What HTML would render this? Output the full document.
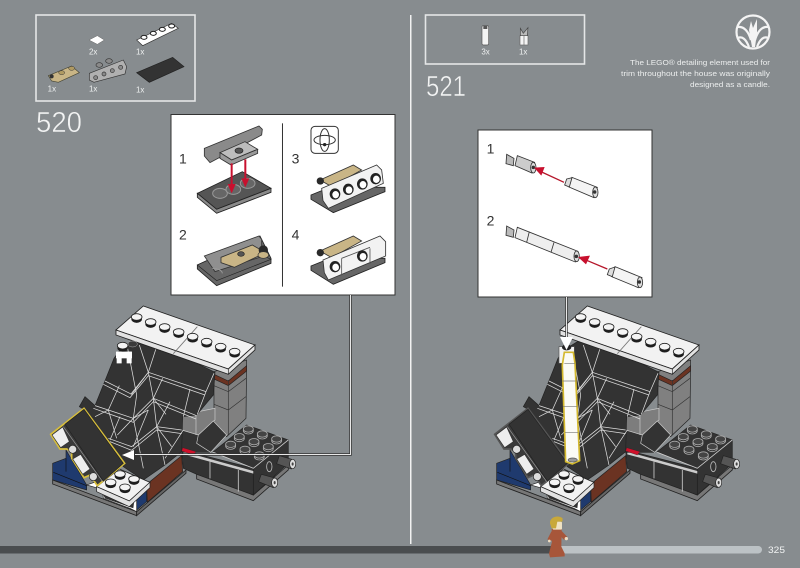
<!DOCTYPE html>
<html><head><meta charset="utf-8"><style>
html,body{margin:0;padding:0;background:#878c8f;width:800px;height:568px;overflow:hidden}
svg{display:block;filter:blur(.3px)}
text{font-family:"Liberation Sans",sans-serif}
</style></head><body>
<svg width="800" height="568" viewBox="0 0 800 568" xmlns="http://www.w3.org/2000/svg">
<defs>
<g id="s"><ellipse cy="7" rx="16" ry="10.5" fill="#1d1d1d"/><ellipse rx="16" ry="10" fill="#f4f4f4" stroke="#222" stroke-width="2.5"/></g>
<g id="d"><ellipse cy="5" rx="15" ry="10" fill="#2d2d2d" stroke="#aaa" stroke-width="2.5"/><ellipse rx="15" ry="9.5" fill="#444" stroke="#aaa" stroke-width="2.5"/></g>
<g id="h"><ellipse cx="0" cy="0" rx="16" ry="17" fill="#222"/><ellipse cx="2" cy="2" rx="10" ry="11" fill="#fff"/></g>
<g id="house">
 <polygon points="470,530 640,600 745,510 745,525 640,617 470,552" fill="#777" stroke="#222" stroke-width="2.5"/>
 <polygon points="520,470 620,390 745,435 745,505 640,600 640,520" fill="#333" stroke="#222" stroke-width="2"/>
 <polygon points="425,465 640,520 640,600 470,538 430,520" fill="#333" stroke="#222" stroke-width="2"/>
 <polygon points="430,470 640,528 640,536 430,478" fill="#ccc"/>
 <path d="M510,500V550M595,525V590M520,472L640,520L745,435" fill="none" stroke="#ccc" stroke-width="2.5"/>
 <use href="#d" x="625" y="402"/><use href="#d" x="667" y="417"/><use href="#d" x="710" y="432"/>
 <use href="#d" x="598" y="425"/><use href="#d" x="642" y="440"/><use href="#d" x="685" y="455"/>
 <use href="#d" x="572" y="448"/><use href="#d" x="615" y="463"/><use href="#d" x="658" y="480"/>
 <polygon points="718,482 762,495 754,522 710,506" fill="#555" stroke="#222" stroke-width="2"/>
 <polygon points="664,538 708,550 700,578 656,560" fill="#555" stroke="#222" stroke-width="2"/>
 <ellipse cx="758" cy="507" rx="9" ry="14" fill="#ddd" stroke="#222" stroke-width="2"/><ellipse cx="758" cy="507" rx="3" ry="5" fill="#444"/>
 <ellipse cx="704" cy="563" rx="9" ry="14" fill="#ddd" stroke="#222" stroke-width="2"/><ellipse cx="704" cy="563" rx="3" ry="5" fill="#444"/>
 <ellipse cx="688" cy="515" rx="8" ry="15" fill="none" stroke="#bbb" stroke-width="2.5"/>
 <polygon points="522,230 620,195 618,370 560,425 522,395" fill="#808080" stroke="#222" stroke-width="2"/>
 <polygon points="522,238 565,258 620,212 620,228 565,272 522,252" fill="#6b3322" stroke="#222" stroke-width="2"/>
 <path d="M522,272L565,290L618,250M522,328L565,345L618,305M565,255V420" fill="none" stroke="#333" stroke-width="2"/>
 <polygon points="425,400 478,418 470,445 512,472 425,472" fill="#333" stroke="#222" stroke-width="2"/>
 <polygon points="425,360 525,340 525,375 475,420 425,405" fill="#7d7d7d" stroke="#ccc" stroke-width="2"/>
 <path d="M468,360V420" stroke="#ccc" stroke-width="2"/>
 <polygon points="475,420 520,378 560,420 512,472 470,445" fill="#333" stroke="#ccc" stroke-width="2"/>
 <polygon points="280,140 350,150 400,170 525,232 520,300 470,360 428,365 425,470 375,510 310,555 250,515 135,345 118,335 135,305 165,332 190,270 222,190 240,165" fill="#333" stroke="#222" stroke-width="2"/>
 <g fill="none" stroke="#dedede" stroke-width="2.2">
  <path d="M195,258L275,298L325,232L498,290"/><path d="M190,268L270,308L325,242L495,300"/>
  <path d="M165,332L205,345L280,370L340,310L470,362"/><path d="M160,340L205,356L280,382L340,320L468,372"/>
  <path d="M205,430L275,455L350,395L425,405"/><path d="M210,440L275,466L350,405L425,416"/>
  <path d="M262,155L290,300L280,370L310,520"/><path d="M298,150L325,232L340,310L350,395L375,510"/>
  <path d="M350,155L325,232L272,298M368,250L340,310L378,358M450,282L430,365M522,235L498,290L472,358"/>
  <path d="M238,272L205,345L165,365M325,345L280,370L232,420M205,345L230,430M390,320L350,395L395,455M280,455L325,345M210,435L240,365M430,405L375,490"/>
 </g>
 <polygon points="428,458 468,470 460,480 425,468" fill="#d0102a" stroke="#222" stroke-width="1"/>
 <polygon points="228,105 310,33 645,150 565,222" fill="#f2f2f2" stroke="#222" stroke-width="2.5"/>
 <polygon points="228,105 228,120 565,238 645,165 645,150 565,222" fill="#e2e2e2" stroke="#222" stroke-width="2.5"/>
 <path d="M400,176L472,95" stroke="#777" stroke-width="2.5" fill="none"/><path d="M565,222V238" stroke="#222" stroke-width="2"/>
 <use href="#s" x="290" y="66"/><use href="#s" x="332" y="81"/><use href="#s" x="374" y="96"/><use href="#s" x="416" y="111"/><use href="#s" x="458" y="125"/><use href="#s" x="500" y="140"/><use href="#s" x="542" y="155"/><use href="#s" x="584" y="170"/>
 <polygon points="38,505 78,490 78,465 140,570 140,585 38,555" fill="#1f3a6e" stroke="#222" stroke-width="2"/>
 <path d="M40,532L140,572M78,490V530" stroke="#111" stroke-width="2" fill="none"/>
 <polygon points="38,555 290,650 290,662 38,567" fill="#777" stroke="#222" stroke-width="2.5"/>
 <polygon points="290,650 438,525 438,535 290,662" fill="#666" stroke="#222" stroke-width="2.5"/>
 <polygon points="290,600 320,570 320,620 290,645" fill="#1f3a6e" stroke="#222" stroke-width="2"/>
 <polygon points="320,568 425,482 428,530 322,622" fill="#6b3322" stroke="#222" stroke-width="2"/>
 <polygon points="140,570 185,555 190,610 270,640 290,650 290,600 270,620 175,580" fill="#fff" stroke="#222" stroke-width="2"/>
 <polygon points="190,600 270,625 285,600 280,640 195,610" fill="#333"/>
 <polygon points="170,575 238,522 330,562 268,618" fill="#f2f2f2" stroke="#222" stroke-width="2.5"/>
 <polygon points="170,575 170,590 268,635 330,578 330,562 268,618" fill="#e2e2e2" stroke="#222" stroke-width="2"/>
 <use href="#s" x="240" y="537"/><use href="#s" x="282" y="552"/><use href="#s" x="212" y="562"/><use href="#s" x="255" y="577"/>
 <polygon points="32,418 132,340 254,505 172,572 150,540 132,548 95,490 95,470 80,462 60,462" fill="#3a3a3a" stroke="currentColor" stroke-width="5"/>
 <polygon points="75,388 132,343 250,505 190,558" fill="#333" stroke="#222" stroke-width="2"/>
 <path d="M70,395L188,560" stroke="#999" stroke-width="2"/>
 <circle cx="98" cy="463" r="12" fill="#ddd" stroke="#222" stroke-width="2"/><circle cx="160" cy="545" r="12" fill="#ddd" stroke="#222" stroke-width="2"/>
 <path d="M36,420L68,396L88,440L62,458ZM98,492L122,478L150,522L128,538Z" fill="#eee" stroke="#333" stroke-width="2"/>
</g>
</defs>
<rect width="800" height="568" fill="#878c8f"/>
<rect x="410" y="15" width="1.5" height="529" fill="#f2f2f2"/>
<rect x="36" y="15" width="159" height="86" fill="none" stroke="#e4e6e7" stroke-width="1.6"/>
<rect x="425.5" y="15" width="159" height="49" fill="none" stroke="#e4e6e7" stroke-width="1.6"/>

<g transform="translate(20,5) scale(.3333)" fill="#eef0f0">
 <polygon points="207,105 232,92 253,105 232,118" fill="#fff" stroke="#666" stroke-width="1.5"/>
 <polygon points="350,105 455,55 475,70 368,122" fill="#fff" stroke="#333" stroke-width="2"/>
 <g fill="#fff" stroke="#222" stroke-width="3"><ellipse cx="372" cy="97" rx="9" ry="6"/><ellipse cx="400" cy="85" rx="9" ry="6"/><ellipse cx="427" cy="73" rx="9" ry="6"/><ellipse cx="455" cy="63" rx="9" ry="6"/></g>
 <polygon points="85,212 155,183 178,203 115,232 95,228" fill="#c9b586" stroke="#443" stroke-width="2"/>
 <g fill="#b09a62" stroke="#333" stroke-width="1.5"><ellipse cx="125" cy="203" rx="9" ry="6"/><ellipse cx="155" cy="190" rx="9" ry="6"/></g>
 <circle cx="95" cy="214" r="6" fill="#333"/>
 <polygon points="208,205 310,165 320,185 315,207 222,232 208,225" fill="#b0b0b0" stroke="#333" stroke-width="2"/>
 <g fill="#8a8a8a" stroke="#333" stroke-width="2"><ellipse cx="238" cy="180" rx="10" ry="7"/><ellipse cx="267" cy="168" rx="10" ry="7"/><circle cx="227" cy="218" r="6"/><circle cx="252" cy="207" r="6"/><circle cx="277" cy="197" r="6"/><circle cx="302" cy="187" r="6"/></g>
 <polygon points="350,203 458,157 492,185 388,232" fill="#333" stroke="#222" stroke-width="2"/>
 <g style="font-size:24px"><text x="207" y="148">2x</text><text x="348" y="148">1x</text><text x="83" y="259">1x</text><text x="207" y="259">1x</text><text x="348" y="262">1x</text></g>
</g>
<g transform="translate(415,5) scale(.3333)" fill="#eef0f0">
 <rect x="201" y="62" width="20" height="58" rx="4" fill="#f4f4f4" stroke="#555" stroke-width="2"/><rect x="205" y="62" width="12" height="10" fill="#555"/>
 <rect x="315" y="92" width="24" height="28" fill="#f4f4f4" stroke="#666" stroke-width="2"/><path d="M327,92V120" stroke="#666" stroke-width="2"/><path d="M316,70L325,85L339,68L337,92H316Z" fill="#bbb" stroke="#444" stroke-width="2"/>
 <g style="font-size:24px"><text x="199" y="148">3x</text><text x="312" y="148">1x</text></g>
</g>
<text x="36" y="132" font-size="29" fill="#f2f3f3" stroke="#878c8f" stroke-width=".5" textLength="46" lengthAdjust="spacingAndGlyphs">520</text>
<text x="426" y="96" font-size="29" fill="#f2f3f3" stroke="#878c8f" stroke-width=".5" textLength="40" lengthAdjust="spacingAndGlyphs">521</text>

<circle cx="753" cy="32" r="16.5" fill="none" stroke="#f4f4f4" stroke-width="2.2"/>
<path d="M752,47L749,30L751,21L753,28L757,19L757,33L755,47Z" fill="#f4f4f4"/>
<g fill="none" stroke="#f4f4f4" stroke-width="2.2"><path d="M751,40C748,30 743,26 737,27"/><path d="M755,40C758,30 763,26 769,27"/><path d="M749,47C746,39 742,36 738,38"/><path d="M757,47C760,39 764,36 768,38"/></g>
<g font-size="7.4" fill="#eceeee" text-anchor="end">
 <text x="770" y="65" textLength="140" lengthAdjust="spacingAndGlyphs">The LEGO® detailing element used for</text>
 <text x="770" y="76" textLength="149" lengthAdjust="spacingAndGlyphs">trim throughout the house was originally</text>
 <text x="770" y="87" textLength="80" lengthAdjust="spacingAndGlyphs">designed as a candle.</text>
</g>

<!-- Panel 1 -->
<rect x="171" y="114.5" width="224" height="180.5" fill="#fff" stroke="#333" stroke-width="1"/>
<g transform="translate(165,110) scale(.3333)">
 <rect x="351" y="40" width="3" height="490" fill="#333"/>
 <g font-size="42" fill="#333"><text x="42" y="160">1</text><text x="42" y="388">2</text><text x="380" y="160">3</text><text x="380" y="388">4</text></g>
 <rect x="438" y="49" width="82" height="81" rx="12" fill="#fff" stroke="#333" stroke-width="3"/>
 <g fill="none" stroke="#333" stroke-width="3"><ellipse cx="479" cy="90" rx="32" ry="14"/><ellipse cx="479" cy="90" rx="14" ry="34"/></g><circle cx="479" cy="104" r="5" fill="#222"/>
 <!-- step 1 -->
 <polygon points="97,250 232,185 318,235 155,298" fill="#555" stroke="#222" stroke-width="2.5"/>
 <polygon points="97,250 97,262 155,310 318,247 318,235 155,298" fill="#8a8a8a" stroke="#222" stroke-width="2.5"/>
 <g fill="#666" stroke="#999" stroke-width="3"><ellipse cx="165" cy="250" rx="22" ry="15"/><ellipse cx="205" cy="238" rx="22" ry="15"/><ellipse cx="248" cy="220" rx="22" ry="15"/></g>
 <polygon points="118,115 282,48 292,58 290,75 135,158 118,138" fill="#8a8a8a" stroke="#333" stroke-width="2.5"/>
 <polygon points="165,128 240,95 278,118 200,150" fill="#bdbdbd" stroke="#333" stroke-width="2.5"/>
 <polygon points="165,128 165,145 198,165 278,130 278,118 200,150" fill="#9a9a9a" stroke="#333" stroke-width="2.5"/>
 <ellipse cx="222" cy="122" rx="12" ry="8" fill="#555" stroke="#222" stroke-width="2"/>
 <g stroke="#c8102e" stroke-width="6" fill="#c8102e"><path d="M200,160V225M241,148V210"/></g>
 <g fill="#c8102e"><polygon points="188,222 212,222 200,250"/><polygon points="229,205 253,205 241,232"/></g>
 <!-- step 2 -->
 <polygon points="97,465 285,378 318,445 318,460 155,527 97,477" fill="#666" stroke="#222" stroke-width="2.5"/>
 <polygon points="97,465 230,405 318,448 155,512" fill="#666" stroke="#222" stroke-width="2"/>
 <polygon points="118,438 282,378 290,388 290,440 150,485" fill="#8f8f8f" stroke="#333" stroke-width="2.5"/>
 <polygon points="168,442 262,405 302,428 208,472 168,458" fill="#c9b586" stroke="#333" stroke-width="2.5"/>
 <ellipse cx="228" cy="432" rx="10" ry="7" fill="#555" stroke="#222" stroke-width="2"/>
 <circle cx="295" cy="420" r="14" fill="#2a2a2a"/><ellipse cx="295" cy="435" rx="16" ry="10" fill="#c9b586" stroke="#333" stroke-width="2"/>
 <path d="M142,475a30,15 0 0 1 30,15" stroke="#999" stroke-width="3" fill="none"/>
 <!-- step 3 -->
 <polygon points="438,255 500,230 660,232 660,245 505,308 438,268" fill="#666" stroke="#222" stroke-width="2.5"/>
 <polygon points="465,210 565,165 590,180 500,230" fill="#c9b586" stroke="#333" stroke-width="2.5"/>
 <circle cx="466" cy="213" r="11" fill="#2a2a2a"/>
 <polygon points="470,235 635,165 650,180 655,220 490,295 474,272" fill="#f2f2f2" stroke="#333" stroke-width="2.5"/>
 <use href="#h" x="510" y="252"/><use href="#h" x="550" y="238"/><use href="#h" x="592" y="222"/><use href="#h" x="632" y="206"/>
 <!-- step 4 -->
 <polygon points="438,468 500,443 660,445 660,458 505,523 438,481" fill="#666" stroke="#222" stroke-width="2.5"/>
 <polygon points="465,423 565,378 590,393 500,443" fill="#c9b586" stroke="#333" stroke-width="2.5"/>
 <circle cx="466" cy="428" r="11" fill="#2a2a2a"/>
 <polygon points="474,450 645,378 662,395 662,438 490,510 478,488" fill="#f2f2f2" stroke="#333" stroke-width="2.5"/>
 <path d="M530,445V497M615,415V462M530,445L615,412" stroke="#555" stroke-width="2.5" fill="none"/>
 <use href="#h" x="510" y="470"/><use href="#h" x="592" y="438"/>
</g>

<!-- Panel 2 -->
<rect x="478" y="130" width="174" height="167" fill="#fff" stroke="#333" stroke-width="1"/>
<g transform="translate(470,125) scale(.3333)">
 <g font-size="42" fill="#333"><text x="50" y="85">1</text><text x="50" y="302">2</text></g>
 <g stroke="#333" stroke-width="2.5" fill="#eee">
  <path d="M132,100L110,88L108,116L130,122Z" fill="#bbb"/>
  <polygon points="142,92 194,112 186,144 135,122" fill="#ccc"/><ellipse cx="190" cy="128" rx="8" ry="16" fill="#ddd"/><circle cx="190" cy="127" r="4" fill="#333"/>
  <polygon points="306,157 382,187 372,218 297,186" fill="#f4f4f4"/><ellipse cx="376" cy="202" rx="8" ry="16" fill="#ddd"/><circle cx="374" cy="201" r="4" fill="#333"/>
  <polygon points="290,162 306,158 298,186 284,180" fill="#ddd"/>
  <path d="M132,315L110,303L108,331L130,337Z" fill="#bbb"/>
  <polygon points="142,307 324,379 316,411 135,338" fill="#eee"/><path d="M178,320L170,352M252,352L243,382" fill="none"/><ellipse cx="320" cy="394" rx="8" ry="16" fill="#ddd"/><circle cx="319" cy="394" r="4" fill="#333"/>
  <polygon points="435,425 516,458 505,488 425,455" fill="#f4f4f4"/><ellipse cx="510" cy="472" rx="8" ry="16" fill="#ddd"/><circle cx="508" cy="471" r="4" fill="#333"/>
  <polygon points="418,432 435,426 427,455 412,449" fill="#ddd"/>
 </g>
 <g stroke="#b5162a" stroke-width="4" fill="#c8102e"><path d="M282,172L215,141M412,432L350,406"/></g>
 <g fill="#c8102e"><polygon points="192,128 224,126 214,152"/><polygon points="324,396 360,392 348,418"/></g>
</g>

<!-- houses -->
<g transform="translate(40,295) scale(.3333)" color="#d8bf3c"><use href="#house"/>
 <g><path d="M230,205V170H245V205ZM260,205V170H275V205Z" fill="#fff"/><rect x="228" y="170" width="48" height="20" fill="#fff"/><use href="#s" x="248" y="152"/><ellipse cx="278" cy="147" rx="14" ry="9" fill="#3a3a3a" stroke="#aaa" stroke-width="1.5"/></g>
</g>
<g transform="translate(484,295) scale(.3333)" color="#555"><use href="#house"/></g>
<g transform="translate(485,295) scale(.3333)">
 <rect x="222" y="155" width="46" height="50" fill="#f4f4f4" stroke="#555" stroke-width="2"/>
 <ellipse cx="245" cy="157" rx="14" ry="9" fill="#222"/>
 <polygon points="238,172 265,172 270,205 284,497 262,507 242,500 232,210" fill="#fbfbf6" stroke="#d4b92e" stroke-width="5"/>
 <path d="M238,205H270M232,258H272M234,335H276M240,412H280" stroke="#777" stroke-width="2" fill="none"/>
 <ellipse cx="263" cy="495" rx="14" ry="6" fill="#999" stroke="#555" stroke-width="2"/>
</g>

<!-- connectors -->
<g fill="none" stroke="#333" stroke-width="2.4"><path d="M350.5,295V454.5H135"/><path d="M566.5,297V340"/></g>
<g fill="none" stroke="#e8e8e8" stroke-width="1"><path d="M350.5,295V454.5H135"/><path d="M566.5,297V340"/></g>
<polygon points="122,455 134,450 134,460" fill="#fff"/>
<polygon points="566.5,350 560,337 573,337" fill="#fff"/>

<!-- progress -->
<rect x="0" y="546" width="762" height="7.5" rx="3.7" fill="#bcc2c5"/>
<rect x="0" y="546" width="555" height="7.5" fill="#4a4d4f"/>
<text x="768" y="553" font-size="9.5" fill="#f0f2f2" textLength="17" lengthAdjust="spacingAndGlyphs">325</text>

<!-- figure -->
<g transform="translate(500,505) scale(.3333)">
 <polygon points="155,72 185,72 184,125 194,145 194,154 150,157 147,145 156,110" fill="#a7563a"/>
 <path d="M160,82L148,106M180,82L197,100" stroke="#a7563a" stroke-width="13" fill="none"/>
 <circle cx="199" cy="101" r="5" fill="#f0dcc0"/><circle cx="148" cy="108" r="4" fill="#f0dcc0"/>
 <rect x="158" y="50" width="28" height="24" rx="4" fill="#efe2c4"/>
 <path d="M150,55C148,36 175,28 188,40L187,50L172,50L168,70L155,70Z" fill="#c8a83a"/>
</g>
</svg>
</body></html>
